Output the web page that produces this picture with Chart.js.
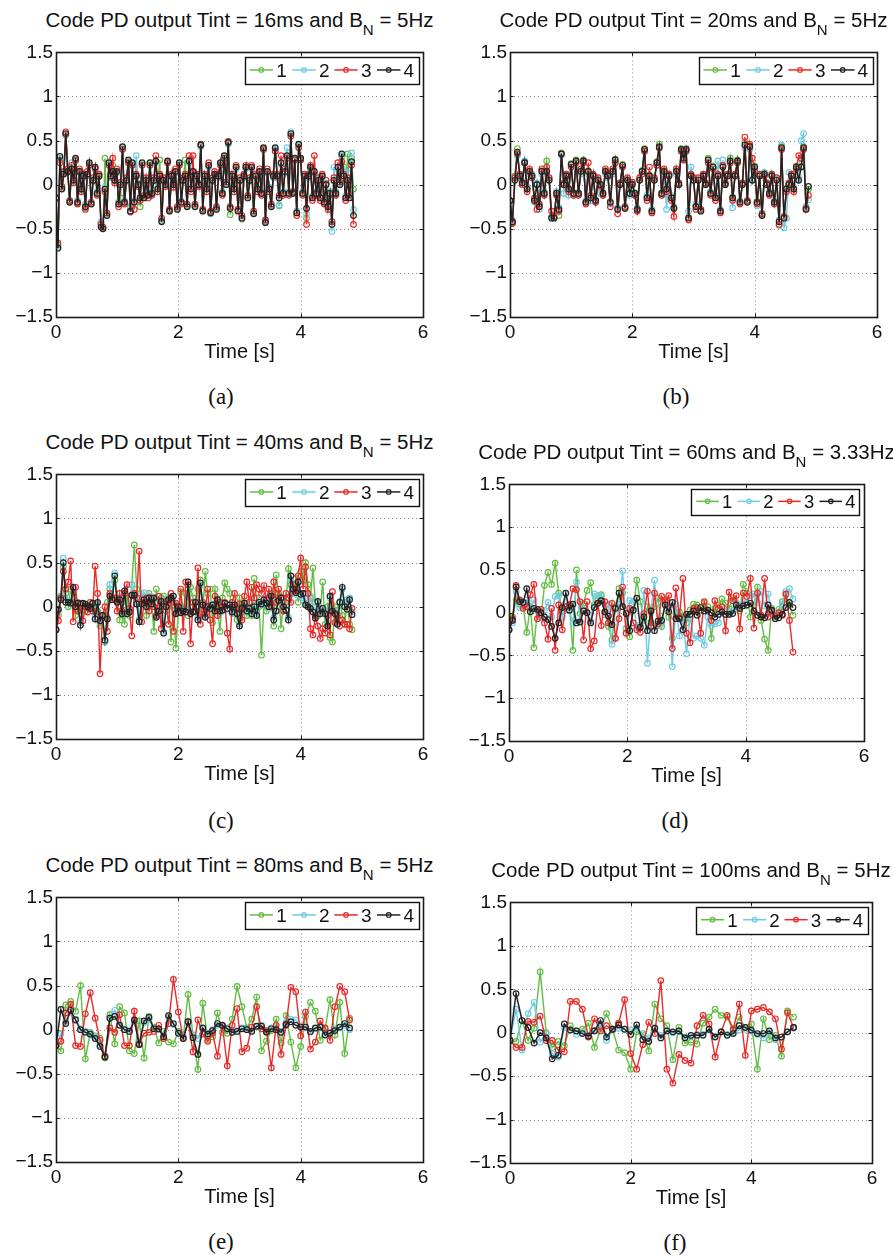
<!DOCTYPE html>
<html><head><meta charset="utf-8">
<script src="https://cdn.jsdelivr.net/npm/chart.js@4.4.1/dist/chart.umd.min.js"></script>
<style>
html,body{margin:0;padding:0;background:#fff;}
body{width:893px;height:1259px;position:relative;overflow:hidden;font-family:"Liberation Sans",Arial,sans-serif;color:#111;}
canvas{position:absolute;}
.t{position:absolute;white-space:nowrap;text-align:center;width:500px;}
.title{font-size:20.5px;line-height:20.5px;}
.title span{font-size:15px;position:relative;top:8.5px;}
.xl{font-size:20px;line-height:20px;}
.cap{font-family:"Liberation Serif","Times New Roman",serif;font-size:23px;line-height:23px;}
</style></head><body>
<script>
// ---------------- data ----------------
const SERIES_LABELS = ['1','2','3','4'];
const TINT = ['16ms','20ms','40ms','60ms','80ms','100ms'];
const BN = ['5Hz','5Hz','5Hz','3.33Hz','5Hz','5Hz'];
const CAPTIONS = ['(a)','(b)','(c)','(d)','(e)','(f)'];
const STEP = [0.032,0.04,0.04,0.06,0.08,0.1];   // sample spacing in seconds
const X_TICKS = [0,2,4,6];
const Y_TICKS = [-1.5,-1,-0.5,0,0.5,1,1.5];
const X_LABEL = 'Time [s]';

// panel (a)
const A1=[-0.15,-0.68,0.28,-0.03,0.13,0.56,0.14,-0.19,0.20,0.06,
0.27,-0.21,0.14,-0.04,0.09,-0.26,0.11,0.24,-0.21,0.04,
0.19,-0.09,0.09,-0.44,-0.50,0.30,-0.34,0.24,0.09,0.22,
0.06,0.14,-0.20,-0.15,0.41,-0.19,0.04,0.27,-0.25,0.24,
-0.19,0.09,0.01,-0.25,0.24,-0.14,0.04,-0.11,0.24,-0.09,
0.04,0.26,-0.04,0.28,-0.41,0.04,0.01,0.26,-0.29,0.09,
0.01,0.14,-0.27,0.24,-0.19,0.04,0.28,-0.24,0.26,-0.04,
0.14,-0.24,0.09,0.01,0.44,-0.29,0.09,-0.04,0.21,-0.31,
0.04,0.11,-0.27,0.09,0.24,-0.09,0.32,0.01,0.47,-0.34,
0.09,-0.04,0.19,-0.29,0.04,-0.39,0.09,0.19,-0.14,0.04,
0.19,-0.32,0.09,-0.04,0.14,-0.09,0.41,-0.42,0.14,-0.04,
-0.24,0.09,0.41,0.09,-0.24,0.24,-0.09,0.14,0.32,-0.09,
0.57,-0.09,0.29,-0.31,0.45,0.29,-0.09,0.09,-0.38,0.09,
0.19,-0.14,0.14,-0.09,0.04,-0.14,0.09,-0.19,0.01,-0.24,
-0.09,-0.42,0.04,-0.09,0.19,0.01,0.32,0.20,-0.14,0.35,
-0.14,0.30,-0.05];
const A2=[-0.15,-0.70,0.30,-0.04,0.14,0.57,0.16,-0.18,0.25,0.03,
0.28,-0.18,0.16,-0.06,0.08,-0.22,0.10,0.23,-0.20,0.06,
0.18,-0.08,0.12,-0.42,-0.48,-0.03,-0.33,0.23,0.08,0.13,
0.04,0.13,-0.22,0.02,0.42,-0.18,0.06,0.26,-0.27,0.23,
-0.18,0.33,0.02,-0.13,0.23,-0.14,0.06,-0.10,0.22,-0.08,
0.06,0.25,-0.03,0.08,-0.40,0.06,0.02,0.25,-0.28,0.08,
0.02,0.13,-0.26,0.23,-0.18,0.06,0.08,-0.23,0.25,-0.03,
0.13,-0.23,0.08,0.02,0.43,-0.28,0.08,-0.03,0.20,-0.33,
0.06,0.10,-0.26,0.08,0.23,-0.08,0.31,0.02,0.46,-0.25,
0.08,-0.03,0.18,-0.28,0.06,-0.36,0.08,0.18,-0.13,0.06,
0.18,-0.31,0.08,-0.03,0.13,-0.08,0.40,-0.41,0.13,-0.03,
-0.23,0.08,0.40,0.08,-0.23,0.23,-0.08,0.13,0.42,-0.08,
0.60,-0.08,0.28,-0.30,0.44,0.28,-0.08,0.08,-0.33,0.08,
0.18,-0.13,0.13,-0.08,0.06,-0.13,0.08,-0.18,0.02,-0.23,
-0.08,-0.53,0.20,-0.08,0.18,0.02,0.33,0.08,-0.13,0.18,
-0.13,0.36,-0.28];
const A3=[-0.15,-0.66,0.25,-0.02,0.15,0.60,0.18,-0.18,0.22,0.02,
0.28,-0.22,0.18,-0.08,0.12,-0.28,0.15,0.22,-0.20,0.08,
0.18,-0.12,0.12,-0.45,-0.48,-0.08,-0.32,0.22,0.12,0.30,
0.02,0.18,-0.25,0.03,0.40,-0.22,0.08,0.25,-0.31,0.22,
-0.28,0.12,-0.02,-0.18,0.22,-0.12,0.08,-0.15,0.22,-0.12,
0.08,0.33,-0.08,0.12,-0.38,0.08,-0.02,0.25,-0.28,0.12,
-0.03,0.18,-0.25,0.22,-0.22,0.08,0.12,-0.22,0.33,-0.08,
0.33,-0.22,0.12,-0.02,0.46,-0.28,0.12,-0.08,0.25,-0.30,
0.08,0.15,-0.25,0.12,0.22,-0.12,0.30,0.03,0.49,-0.25,
0.12,-0.08,0.22,-0.28,0.08,-0.35,0.12,0.22,-0.12,0.08,
0.22,-0.30,0.12,-0.08,0.18,-0.12,0.40,-0.40,0.18,-0.08,
-0.22,0.12,0.38,0.12,-0.12,0.33,-0.12,0.18,0.30,-0.12,
0.55,-0.08,0.28,-0.35,0.42,0.28,-0.12,0.12,-0.45,0.12,
0.22,-0.18,0.33,-0.12,0.08,-0.18,0.12,-0.22,0.05,-0.28,
-0.12,-0.42,0.08,-0.12,0.25,0.03,0.26,0.12,-0.18,0.08,
-0.12,0.22,-0.45];
const A4=[-0.15,-0.72,0.32,-0.05,0.12,0.58,0.15,-0.20,0.18,0.05,
0.30,-0.20,0.15,-0.05,0.10,-0.25,0.12,0.25,-0.22,0.05,
0.20,-0.10,0.10,-0.48,-0.50,-0.05,-0.35,0.25,0.10,0.15,
0.05,0.15,-0.22,0.00,0.43,-0.20,0.05,0.28,-0.30,0.25,
-0.20,0.10,0.00,-0.15,0.25,-0.15,0.05,-0.12,0.25,-0.10,
0.05,0.27,-0.05,0.10,-0.42,0.05,0.00,0.27,-0.30,0.10,
0.00,0.15,-0.28,0.25,-0.20,0.05,0.10,-0.25,0.27,-0.05,
0.15,-0.25,0.10,0.00,0.45,-0.30,0.10,-0.05,0.22,-0.32,
0.05,0.12,-0.28,0.10,0.25,-0.10,0.33,0.00,0.48,-0.27,
0.10,-0.05,0.20,-0.30,0.05,-0.38,0.10,0.20,-0.15,0.05,
0.20,-0.33,0.10,-0.05,0.15,-0.10,0.42,-0.43,0.15,-0.05,
-0.25,0.10,0.42,0.10,-0.15,0.25,-0.10,0.15,0.33,-0.10,
0.58,-0.10,0.30,-0.32,0.46,0.30,-0.10,0.10,-0.27,0.10,
0.20,-0.15,0.15,-0.10,0.05,-0.15,0.10,-0.20,0.00,-0.25,
-0.10,-0.45,0.05,-0.10,0.20,0.00,0.35,0.10,-0.15,0.05,
-0.15,0.26,-0.35];

// panel (b)
const B1=[-0.18,-0.43,0.10,0.41,0.08,0.03,0.26,-0.04,0.16,0.11,
-0.16,0.01,-0.24,0.16,-0.09,0.27,0.06,-0.37,-0.37,-0.09,
-0.35,0.36,0.01,0.11,-0.04,0.24,-0.09,0.28,-0.09,0.16,
0.28,-0.19,0.16,-0.14,0.11,-0.17,0.06,0.01,-0.09,0.16,
0.11,-0.19,0.16,0.29,-0.27,0.01,0.23,-0.26,0.06,-0.09,
0.01,-0.09,-0.27,0.06,0.16,0.41,-0.14,0.11,-0.29,0.06,
0.26,0.46,-0.09,0.16,-0.04,0.11,-0.14,-0.26,0.16,0.01,
0.41,0.31,0.41,-0.37,0.11,0.06,-0.24,0.06,-0.29,0.11,
0.01,0.30,-0.09,0.21,-0.14,0.11,-0.29,0.21,0.01,0.11,
0.30,-0.14,0.11,0.28,-0.19,0.01,0.48,-0.19,0.44,0.06,
0.21,-0.19,0.11,-0.34,0.13,0.01,-0.09,0.11,-0.19,0.06,
-0.46,0.43,-0.37,-0.04,0.01,0.11,-0.04,0.21,0.06,0.21,
0.43,-0.25,-0.05];
const B2=[-0.18,-0.40,0.08,0.33,0.12,0.04,0.27,-0.03,0.12,0.12,
-0.20,0.02,-0.28,0.12,-0.08,0.12,0.07,-0.36,-0.36,-0.08,
-0.26,0.33,-0.10,0.08,-0.12,0.22,-0.12,0.25,-0.12,0.12,
0.25,-0.18,0.12,-0.18,0.08,-0.20,0.07,-0.10,-0.12,0.12,
0.08,-0.22,0.12,0.25,-0.26,0.02,0.20,-0.25,0.07,-0.12,
0.02,-0.12,-0.26,0.07,0.12,0.38,-0.12,0.08,-0.28,0.07,
0.22,0.41,-0.12,0.12,-0.28,0.12,-0.12,-0.25,0.12,0.02,
0.38,0.28,0.38,-0.30,0.20,0.07,-0.22,0.07,-0.28,0.12,
0.02,0.26,-0.08,0.18,-0.12,0.27,-0.28,0.28,0.02,0.12,
0.25,-0.26,0.12,0.25,-0.18,0.02,0.42,-0.18,0.40,0.07,
0.18,-0.24,0.12,-0.32,0.14,0.02,-0.08,0.12,-0.18,0.07,
-0.40,0.45,-0.49,-0.38,0.14,0.12,-0.03,0.18,0.07,0.50,
0.58,-0.25,-0.17];
const B3=[-0.18,-0.44,0.08,0.35,0.12,0.00,0.25,-0.08,0.18,0.08,
-0.15,-0.28,-0.22,0.18,-0.12,0.20,0.08,-0.30,-0.36,-0.12,
-0.30,0.35,0.02,0.12,-0.08,0.20,-0.12,0.25,-0.12,0.18,
0.25,-0.22,0.25,-0.12,0.12,-0.20,0.08,-0.02,-0.12,0.18,
0.12,-0.25,0.18,0.25,-0.33,0.02,0.20,-0.25,0.08,0.03,
0.03,-0.12,-0.30,0.08,0.12,0.38,-0.18,0.20,-0.32,0.08,
0.22,0.42,-0.12,0.18,-0.08,0.12,-0.18,-0.36,0.18,0.02,
0.38,0.28,0.38,-0.40,0.12,0.08,-0.28,0.08,-0.28,0.12,
0.02,0.25,-0.12,0.18,-0.18,0.12,-0.32,0.22,0.02,0.12,
0.25,-0.18,0.12,0.25,-0.22,0.02,0.54,-0.18,0.46,0.30,
0.15,-0.22,0.12,-0.33,0.10,0.02,-0.12,0.12,-0.22,0.08,
-0.45,0.40,-0.36,-0.08,0.02,0.12,-0.08,0.18,0.33,0.30,
0.40,-0.27,-0.12];
const B4=[-0.18,-0.42,0.05,0.37,0.10,0.02,0.25,-0.05,0.15,0.10,
-0.18,0.00,-0.25,0.15,-0.10,0.15,0.05,-0.38,-0.38,-0.10,
-0.28,0.35,0.00,0.10,-0.05,0.23,-0.10,0.27,-0.10,0.15,
0.27,-0.20,0.15,-0.15,0.10,-0.18,0.05,0.00,-0.10,0.15,
0.10,-0.20,0.15,0.28,-0.28,0.00,0.22,-0.27,0.05,-0.10,
0.00,-0.10,-0.28,0.05,0.15,0.40,-0.15,0.10,-0.30,0.05,
0.25,0.43,-0.10,0.15,-0.05,0.10,-0.15,-0.27,0.15,0.00,
0.40,0.30,0.40,-0.38,0.10,0.05,-0.25,0.05,-0.30,0.10,
0.00,0.28,-0.10,0.20,-0.15,0.10,-0.30,0.20,0.00,0.10,
0.27,-0.15,0.10,0.27,-0.20,0.00,0.45,-0.20,0.43,0.05,
0.20,-0.20,0.10,-0.35,0.12,0.00,-0.10,0.10,-0.20,0.05,
-0.42,0.42,-0.38,-0.05,0.00,0.10,-0.05,0.20,0.05,0.20,
0.42,-0.28,-0.02];

// panel (c)
const C1=[-0.26,-0.10,0.12,0.45,0.15,0.00,0.20,0.05,-0.10,0.05,
-0.05,0.03,-0.05,0.02,-0.02,0.00,0.03,-0.05,-0.22,-0.10,
-0.40,0.05,0.20,0.10,0.30,0.08,-0.15,0.05,-0.20,0.12,
-0.10,0.25,0.70,0.20,-0.15,0.05,0.10,-0.10,0.15,0.08,
-0.28,0.20,-0.05,0.10,0.12,-0.05,0.10,-0.40,0.00,-0.47,
-0.05,0.17,-0.05,0.15,-0.10,0.22,0.10,-0.05,0.20,0.30,
-0.03,0.40,0.15,0.20,-0.18,0.20,0.00,-0.28,0.10,0.27,
0.20,0.15,-0.05,0.00,-0.15,0.10,-0.12,0.00,-0.10,0.05,
-0.10,0.32,0.10,0.00,-0.55,0.05,-0.05,0.00,0.15,-0.22,
0.36,0.15,-0.25,0.10,0.05,0.43,0.25,0.15,0.32,0.05,
0.40,0.30,0.50,0.25,0.10,0.44,0.05,-0.10,-0.05,0.28,
-0.20,0.00,-0.35,-0.40,0.00,-0.12,0.05,-0.10,-0.20,0.05,
-0.20,-0.26];
const C2=[-0.26,-0.05,0.12,0.55,0.08,0.06,0.05,0.20,0.02,0.03,
-0.18,0.03,0.02,-0.01,-0.03,0.03,-0.12,0.04,-0.18,-0.12,
-0.40,-0.12,0.25,0.10,0.38,0.06,0.10,-0.06,0.15,-0.06,
-0.04,0.25,0.12,0.05,-0.15,0.15,0.16,0.02,0.12,0.05,
0.08,-0.10,-0.03,0.08,-0.28,0.02,0.10,0.12,0.05,-0.06,
0.02,-0.05,-0.06,-0.04,0.25,-0.06,-0.05,0.06,-0.12,0.24,
0.03,-0.10,0.02,-0.03,0.03,-0.04,0.06,-0.06,-0.05,0.03,
-0.03,0.03,-0.08,0.01,-0.06,-0.20,-0.03,0.03,-0.06,-0.04,
-0.06,0.02,-0.08,0.06,0.02,0.06,0.05,-0.02,0.10,-0.12,
-0.04,0.06,0.08,0.02,-0.03,-0.12,0.30,0.18,0.14,0.25,
0.12,0.10,0.04,0.02,0.12,-0.04,-0.10,0.04,-0.06,-0.04,
-0.06,-0.20,0.10,-0.04,-0.06,-0.18,0.06,0.20,0.02,0.08,
0.10,-0.06];
const C3=[-0.26,-0.16,0.10,0.40,0.20,0.28,0.52,-0.17,0.22,-0.05,
0.03,-0.16,0.00,-0.06,0.05,-0.05,0.46,0.15,-0.76,-0.10,
0.00,-0.28,0.15,0.10,0.10,-0.05,0.15,-0.05,0.15,0.25,
-0.02,-0.33,0.15,0.10,0.63,-0.17,0.05,0.10,-0.05,0.10,
0.00,-0.10,0.12,-0.25,0.03,0.06,-0.20,0.15,-0.28,0.04,
-0.07,0.20,-0.28,0.28,0.25,-0.42,0.05,-0.05,0.44,-0.20,
0.05,-0.08,0.20,-0.15,-0.42,0.12,-0.10,0.05,0.00,0.05,
-0.30,-0.48,0.05,0.15,-0.08,0.03,-0.15,0.12,0.28,0.05,
0.22,0.10,0.25,0.20,0.15,0.24,0.08,0.20,0.00,0.28,
0.05,0.20,0.10,-0.05,0.15,0.10,0.05,0.25,0.18,0.35,
0.55,0.20,0.45,0.15,-0.25,-0.32,-0.10,-0.22,-0.36,-0.25,
-0.30,-0.10,-0.32,0.17,-0.18,-0.10,-0.22,-0.15,-0.20,-0.20,
-0.25,-0.02];
const C4=[-0.26,-0.03,0.08,0.50,0.05,0.05,0.04,0.22,0.00,0.04,
-0.21,0.04,0.03,0.00,-0.02,0.04,-0.14,0.05,-0.16,-0.10,
-0.38,-0.14,0.12,0.08,0.35,0.05,0.08,-0.08,0.18,-0.08,
-0.06,0.13,0.13,0.03,-0.17,0.03,0.08,0.00,0.10,0.03,
0.10,-0.12,-0.05,0.06,-0.30,0.00,0.08,0.10,0.12,-0.08,
0.00,-0.07,-0.05,-0.06,0.28,-0.08,-0.06,0.05,-0.15,0.27,
0.02,-0.12,0.00,-0.02,0.02,-0.05,0.08,-0.05,-0.04,0.04,
-0.02,0.02,-0.06,0.02,-0.08,-0.22,-0.02,0.04,-0.05,-0.02,
-0.08,0.00,-0.10,0.05,0.03,0.08,0.04,0.00,0.12,-0.15,
-0.05,0.07,0.10,0.00,-0.04,-0.15,0.35,0.20,0.16,0.28,
0.14,0.15,0.02,0.00,-0.02,-0.06,-0.13,0.06,-0.08,-0.02,
-0.08,-0.22,0.12,-0.05,-0.08,-0.20,0.05,0.22,0.00,-0.03,
0.08,-0.09];

// panel (d)
const D1=[-0.20,-0.05,0.15,0.10,0.07,-0.23,0.07,-0.41,0.03,-0.05,
0.32,0.47,0.33,0.58,0.23,0.03,0.07,0.09,-0.44,0.50,
-0.01,0.11,0.26,0.35,0.09,0.15,0.21,0.01,-0.16,-0.32,
0.07,0.28,0.23,-0.19,-0.28,0.04,0.38,0.13,-0.09,0.07,
-0.12,0.07,0.17,-0.16,0.15,-0.05,-0.30,-0.01,0.01,-0.05,
-0.12,0.03,0.10,0.09,0.03,0.11,0.07,-0.30,0.05,0.09,
0.16,0.11,0.05,0.17,0.07,0.02,0.33,0.23,-0.05,0.09,
0.30,-0.09,-0.31,-0.44,0.05,-0.05,0.04,0.13,0.21,0.09,
-0.03];
const D2=[-0.20,-0.12,0.25,0.06,0.10,0.15,0.06,0.15,0.02,-0.05,
0.03,0.12,-0.05,0.19,0.20,-0.05,0.22,0.02,-0.12,0.36,
-0.10,0.08,0.00,-0.10,0.22,0.20,0.19,-0.02,0.10,-0.37,
-0.30,0.10,0.49,-0.18,0.14,0.13,-0.18,-0.14,0.26,-0.59,
0.02,0.38,-0.15,-0.13,0.10,0.06,-0.63,0.10,-0.27,-0.08,
-0.48,-0.05,-0.30,-0.27,-0.30,-0.38,-0.05,-0.15,-0.13,-0.12,
0.00,0.05,-0.02,0.02,0.12,0.07,0.10,0.12,0.20,0.22,
0.12,0.25,0.08,0.22,0.00,-0.05,0.00,0.10,0.25,0.28,
0.16];
const D3=[-0.20,-0.07,0.32,0.15,0.05,0.07,0.21,0.33,-0.07,0.04,
-0.12,-0.31,0.05,-0.44,0.09,-0.20,0.07,0.09,0.28,0.27,
0.13,-0.32,0.13,-0.42,-0.33,0.11,-0.15,0.13,-0.12,0.11,
-0.30,-0.07,0.30,-0.24,0.05,-0.12,-0.20,-0.23,-0.01,0.25,
-0.16,0.23,-0.13,0.19,0.13,0.20,-0.42,0.29,-0.05,0.40,
-0.24,-0.35,0.05,0.06,-0.24,0.13,0.03,-0.09,0.14,0.05,
0.07,-0.21,0.24,0.14,0.20,-0.19,0.23,0.19,0.40,-0.18,
0.23,-0.03,0.40,-0.05,0.02,-0.04,0.00,-0.03,0.22,-0.09,
-0.46];
const D4=[-0.20,-0.09,0.30,0.13,0.12,0.28,0.01,0.05,0.04,0.00,
-0.05,-0.08,-0.16,-0.30,-0.12,0.06,0.23,0.03,0.10,-0.12,
-0.11,0.02,0.00,-0.12,0.06,0.11,0.14,0.01,-0.04,-0.14,
0.05,0.23,0.07,-0.01,-0.21,0.03,0.17,-0.17,-0.05,-0.21,
0.02,-0.21,-0.10,-0.09,0.09,0.01,0.12,-0.07,-0.07,-0.20,
-0.02,-0.02,0.02,-0.03,0.06,0.02,0.03,0.00,-0.05,-0.02,
0.01,-0.02,-0.02,-0.01,0.09,0.05,0.08,0.09,0.11,0.02,
-0.03,-0.05,-0.06,0.09,0.03,-0.07,-0.06,-0.02,0.06,0.12,
0.06];

// panel (e)
const E1=[-0.18,-0.24,0.28,0.32,0.21,0.50,-0.33,-0.03,-0.07,-0.10,
-0.32,0.17,-0.16,0.26,0.19,-0.24,-0.27,0.10,-0.32,0.15,
0.03,-0.15,-0.02,-0.14,-0.16,-0.02,-0.08,0.40,-0.06,-0.45,
0.30,-0.11,-0.08,0.19,-0.03,-0.04,0.12,0.49,0.26,0.02,
0.12,0.37,-0.24,-0.13,-0.01,0.12,-0.15,0.16,-0.14,-0.43,
-0.19,0.15,0.31,0.21,-0.12,0.01,0.34,-0.06,0.31,-0.27,
0.13];
const E2=[-0.18,-0.05,0.10,0.20,0.12,0.01,-0.02,-0.06,-0.08,-0.17,
-0.30,0.14,0.22,0.06,0.01,-0.01,0.09,-0.15,0.08,0.12,
0.02,0.00,-0.06,0.14,0.06,-0.03,-0.08,0.07,-0.06,-0.10,
0.01,-0.04,0.00,0.05,0.04,0.02,-0.02,-0.01,0.02,0.01,
-0.01,0.03,0.05,-0.02,0.02,0.01,-0.02,0.08,0.12,0.11,
0.04,0.02,-0.03,0.01,0.02,-0.05,-0.03,0.00,0.02,0.05,
0.00];
const E3=[-0.18,-0.13,0.19,0.29,-0.18,-0.19,0.18,0.42,0.13,-0.12,
-0.30,0.02,-0.03,0.17,-0.18,-0.18,0.21,-0.16,-0.04,-0.03,
-0.02,0.05,-0.10,0.07,0.57,0.20,-0.10,0.09,-0.25,0.11,
-0.05,-0.13,-0.04,-0.30,0.05,-0.41,0.05,0.24,-0.25,-0.21,
0.03,0.26,0.01,-0.01,-0.43,0.05,-0.28,0.05,0.48,0.43,
-0.07,0.20,-0.22,-0.14,0.10,0.02,-0.12,0.26,0.49,0.43,
0.11];
const E4=[-0.18,0.23,0.07,0.22,0.11,0.00,-0.03,-0.05,-0.10,-0.19,
-0.31,0.13,0.15,0.05,0.00,-0.02,0.11,-0.17,0.10,0.14,
0.01,0.01,-0.08,0.16,0.07,-0.04,-0.10,0.09,-0.09,-0.28,
0.02,-0.05,-0.01,0.07,0.05,0.01,-0.03,-0.02,0.01,0.00,
-0.02,0.04,0.04,-0.03,0.01,0.00,-0.03,0.06,0.09,0.05,
0.03,0.03,-0.02,0.02,0.03,-0.06,-0.04,-0.01,0.03,0.07,
0.02];

// panel (f)
const F1=[-0.09,-0.10,0.14,-0.09,0.05,0.70,0.00,-0.17,-0.10,-0.15,
0.08,0.02,0.04,0.11,-0.17,0.04,0.22,0.04,-0.20,-0.23,
-0.42,0.01,-0.01,-0.21,0.33,0.16,0.08,-0.31,0.06,-0.12,
-0.11,-0.13,0.11,0.18,0.27,0.20,0.18,0.02,0.18,0.06,
0.10,-0.42,0.16,-0.08,-0.03,-0.27,0.25,0.18];
const F2=[-0.09,0.27,-0.20,0.22,0.35,-0.11,-0.01,-0.24,-0.28,0.06,
0.03,-0.02,0.00,-0.03,0.03,0.10,-0.09,0.03,0.05,0.04,
0.03,0.05,-0.03,-0.06,0.06,-0.03,0.03,0.00,0.01,-0.05,
-0.04,-0.02,-0.02,0.03,-0.04,0.01,-0.02,0.00,0.03,0.04,
0.02,-0.02,-0.06,0.00,-0.08,-0.05,0.01,0.05];
const F3=[-0.09,-0.17,-0.17,0.13,0.12,0.19,-0.09,-0.09,-0.20,-0.22,
0.36,0.36,0.27,-0.05,0.16,0.02,0.08,0.04,0.11,0.38,
-0.24,-0.42,-0.14,0.12,-0.01,0.60,-0.42,-0.58,-0.25,-0.32,
-0.35,0.08,0.20,0.10,-0.28,0.01,0.20,0.04,0.33,-0.26,
0.25,0.27,0.29,0.24,0.16,-0.19,0.23,0.06];
const F4=[-0.09,0.45,0.14,0.06,-0.12,0.00,-0.06,-0.30,-0.26,0.10,
0.03,0.02,-0.01,-0.04,0.02,0.14,-0.05,0.04,0.09,0.04,
-0.02,0.09,-0.08,-0.10,0.05,-0.06,0.02,0.01,0.02,-0.06,
-0.03,-0.03,-0.03,0.04,-0.05,0.01,-0.03,-0.01,0.08,0.06,
0.03,-0.01,-0.01,0.02,-0.06,-0.05,0.01,0.06];

const PANEL_SERIES = [[A1,A2,A3,A4],[B1,B2,B3,B4],[C1,C2,C3,C4],[D1,D2,D3,D4],[E1,E2,E3,E4],[F1,F2,F3,F4]];

// ---------------- layout / style ----------------
const COLORS = ['#63bd44','#6fcce5','#ea2a2a','#222222'];
const LAYOUT = [
  {L:56, T:52,  W:367, H:265, capX:221, capBase:404},
  {L:510,T:52,  W:367, H:265, capX:676, capBase:404},
  {L:56, T:474, W:367, H:265, capX:221, capBase:828},
  {L:509,T:484, W:355, H:257, capX:675, capBase:828},
  {L:56, T:897, W:367, H:265, capX:221, capBase:1249},
  {L:510,T:902, W:362, H:261, capX:675, capBase:1250}
];
const YW = 56, PT = 14, PR = 16, XH = 34;
const FONT = '"Liberation Sans", Arial, sans-serif';
const TEXT_COLOR = '#111';

function fmt(v){
  const r = Math.round(v*10)/10;
  return r < 0 ? '\u2212' + Math.abs(r) : String(r);
}

const framePlugin = {
  id:'frame',
  beforeDatasetsDraw(chart){
    const ctx = chart.ctx, a = chart.chartArea, sx = chart.scales.x, sy = chart.scales.y;
    ctx.save();
    ctx.strokeStyle = '#8a8a8a'; ctx.lineWidth = 1; ctx.setLineDash([1,3]);
    X_TICKS.forEach(v => {
      if (v <= sx.min || v >= sx.max) return;
      const px = Math.round(sx.getPixelForValue(v)) + 0.5;
      ctx.beginPath(); ctx.moveTo(px, a.top); ctx.lineTo(px, a.bottom); ctx.stroke();
    });
    Y_TICKS.forEach(v => {
      if (v <= sy.min || v >= sy.max) return;
      const py = Math.round(sy.getPixelForValue(v)) + 0.5;
      ctx.beginPath(); ctx.moveTo(a.left, py); ctx.lineTo(a.right, py); ctx.stroke();
    });
    ctx.restore();
  },
  afterDatasetsDraw(chart){
    const ctx = chart.ctx, a = chart.chartArea, sx = chart.scales.x, sy = chart.scales.y;
    ctx.save();
    ctx.setLineDash([]);
    ctx.strokeStyle = '#1a1a1a'; ctx.lineWidth = 1;
    const tl = 3.5;
    X_TICKS.forEach(v => {
      const px = Math.round(sx.getPixelForValue(v)) + 0.5;
      ctx.beginPath(); ctx.moveTo(px, a.bottom); ctx.lineTo(px, a.bottom - tl);
      ctx.moveTo(px, a.top); ctx.lineTo(px, a.top + tl); ctx.stroke();
    });
    Y_TICKS.forEach(v => {
      const py = Math.round(sy.getPixelForValue(v)) + 0.5;
      ctx.beginPath(); ctx.moveTo(a.left, py); ctx.lineTo(a.left + tl, py);
      ctx.moveTo(a.right, py); ctx.lineTo(a.right - tl, py); ctx.stroke();
    });
    // axes box
    ctx.lineWidth = 1.6; ctx.strokeStyle = '#1a1a1a';
    ctx.strokeRect(Math.round(a.left)+0.5, Math.round(a.top)+0.5, Math.round(a.right-a.left), Math.round(a.bottom-a.top));
    // legend
    const s = (a.right - a.left) / 367;
    const bw = 174*s, bh = 27.3*s;
    const bx = a.right - 4.4*s - bw, by = a.top + 4.4*s;
    ctx.fillStyle = '#fff';
    ctx.fillRect(bx, by, bw, bh);
    ctx.lineWidth = 1.4; ctx.strokeStyle = '#111';
    ctx.strokeRect(Math.round(bx)+0.5, Math.round(by)+0.5, Math.round(bw), Math.round(bh));
    const cy = by + bh/2 - 0.5;
    const starts = [5, 47.7, 89.7, 132.4];
    chart.data.datasets.forEach((ds, k) => {
      const x0 = bx + starts[k]*s, x1 = x0 + 23.4*s;
      ctx.strokeStyle = ds.borderColor; ctx.lineWidth = 1.5;
      ctx.beginPath(); ctx.moveTo(x0, cy); ctx.lineTo(x1, cy); ctx.stroke();
      ctx.lineWidth = 1.2;
      ctx.beginPath(); ctx.arc((x0+x1)/2, cy, 2.3*s, 0, Math.PI*2); ctx.stroke();
      ctx.fillStyle = TEXT_COLOR;
      ctx.font = (19*s).toFixed(1) + 'px ' + FONT;
      ctx.textBaseline = 'alphabetic'; ctx.textAlign = 'left';
      ctx.fillText(ds.label, x1 + 3.2*s, cy + 7*s);
    });
    ctx.restore();
  }
};

function addText(cls, html, left, top){
  const d = document.createElement('div');
  d.className = 't ' + cls;
  d.innerHTML = html;
  d.style.left = (left - 250) + 'px';
  d.style.top = top + 'px';
  document.body.appendChild(d);
}

PANEL_SERIES.forEach((series, p) => {
  const g = LAYOUT[p];
  const cv = document.createElement('canvas');
  cv.width = YW + g.W + PR; cv.height = PT + g.H + XH;
  cv.style.left = (g.L - YW) + 'px'; cv.style.top = (g.T - PT) + 'px';
  cv.style.width = cv.width + 'px'; cv.style.height = cv.height + 'px';
  document.body.appendChild(cv);
  const step = STEP[p];
  const datasets = series.map((vals, k) => ({
    label: SERIES_LABELS[k],
    data: vals.map((v, i) => ({x: Math.round(i*step*1000)/1000, y: v})),
    borderColor: COLORS[k],
    backgroundColor: 'rgba(0,0,0,0)',
    pointBorderColor: COLORS[k],
    pointBackgroundColor: 'rgba(0,0,0,0)',
    pointRadius: 2.8,
    pointBorderWidth: 1.2,
    borderWidth: k === 3 ? 1.5 : 1.4,
    tension: 0,
    fill: false,
    order: 4 - k
  }));
  new Chart(cv, {
    type: 'line',
    data: {datasets},
    options: {
      responsive: false, animation: false, devicePixelRatio: 1, events: [],
      layout: {padding: {top: PT, right: PR, left: 0, bottom: 0}},
      plugins: {legend: {display: false}, tooltip: {enabled: false}, title: {display: false}},
      scales: {
        x: {
          type: 'linear', min: 0, max: 6,
          afterFit: s => { s.height = XH; },
          afterBuildTicks: s => { s.ticks = X_TICKS.map(v => ({value: v})); },
          grid: {display: false, drawTicks: false}, border: {display: false},
          ticks: {padding: 4, color: TEXT_COLOR, font: {family: FONT, size: 19}, maxRotation: 0, autoSkip: false, callback: fmt}
        },
        y: {
          type: 'linear', min: -1.5, max: 1.5,
          afterFit: s => { s.width = YW; },
          afterBuildTicks: s => { s.ticks = Y_TICKS.map(v => ({value: v})); },
          grid: {display: false, drawTicks: false}, border: {display: false},
          ticks: {padding: 3, color: TEXT_COLOR, font: {family: FONT, size: 19}, autoSkip: false, callback: fmt}
        }
      }
    },
    plugins: [framePlugin]
  });
  const cx = g.L + g.W/2;
  addText('title', 'Code PD output Tint = ' + TINT[p] + ' and B<span>N</span> = ' + BN[p], cx, g.T - 42.4);
  addText('xl', X_LABEL, cx, g.T + g.H + 23.7);
  addText('cap', CAPTIONS[p], g.capX, g.capBase - 19.3);
});
</script>
</body></html>
